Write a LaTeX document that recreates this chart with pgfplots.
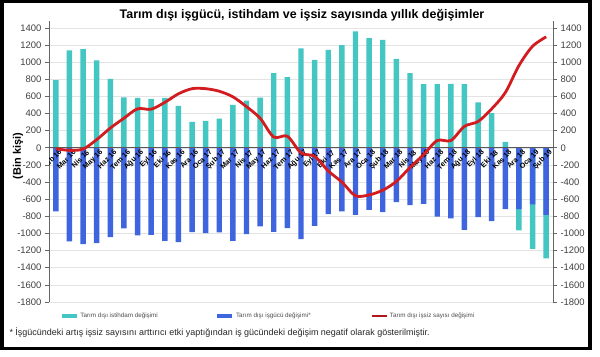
\documentclass[border=0pt]{standalone}
\usepackage{fontspec}
\setmainfont{Liberation Sans}
\usepackage{pgfplots}
\usepackage{pgfplotstable}
\pgfplotsset{compat=1.18}
\definecolor{tealc}{RGB}{68,198,194}
\definecolor{bluec}{RGB}{62,100,222}
\definecolor{redc}{RGB}{210,28,32}

\pgfplotstableread{
x teal blue red
0 790 -743 -10
1 1136 -1093 -30
2 1152 -1125 -15
3 1019 -1113 95
4 805 -1043 230
5 588 -942 345
6 584 -1023 455
7 572 -1016 450
8 584 -1086 530
9 490 -1101 630
10 303 -985 690
11 315 -996 690
12 339 -988 660
13 500 -1086 595
14 550 -1008 480
15 585 -918 345
16 872 -981 125
17 825 -938 135
18 1160 -1066 -60
19 1027 -910 -100
20 1144 -774 -270
21 1198 -743 -400
22 1358 -782 -560
23 1280 -724 -550
24 1261 -751 -495
25 1039 -634 -393
26 872 -669 -230
27 743 -654 -80
28 743 -802 85
29 747 -825 85
30 743 -957 250
31 530 -809 307
32 405 -856 455
33 68 -716 645
34 -249 -716 960
35 -518 -661 1185
36 -510 -782 1295
}\datatable

\tikzset{xlab/.style={rotate=45, anchor=east, font=\bfseries\fontsize{7.3}{8}\selectfont, text=black, inner sep=0.3bp, xshift=1.5bp, yshift=-6bp}}

\begin{document}
\begin{tikzpicture}[x=1bp,y=1bp]
\path[use as bounding box] (0,0) rectangle (600,356);
\begin{axis}[
  at={(49bp,54bp)}, anchor=south west,
  scale only axis, width=504bp, height=281bp,
  xmin=-0.5, xmax=36.5, ymin=-1800, ymax=1480,
  axis y line*=left, axis x line=none,
  ytick={-1800,-1600,...,1400},
  ymajorgrids, grid style={gray!22, line width=0.5bp},
  axis line style={gray!80!black, line width=0.6bp},
  tick style={gray!80!black, line width=0.6bp},
  tick align=outside, major tick length=4bp,
  yticklabel style={font=\fontsize{9.5}{11}\selectfont, text=black!75},
  /pgf/number format/assume math mode=true,
  /pgf/number format/1000 sep={},
  legend columns=3,
  legend style={draw=none, fill=none, at={(0.016,-0.05)}, anchor=west,
    font=\fontsize{6.3}{7}\selectfont, text=black!70,
    /tikz/column 2/.style={column sep=56bp},
    /tikz/column 4/.style={column sep=58bp}},
  legend cell align=left,
]
\addplot[ybar, bar width=0.4, bar shift=0pt, fill=tealc, draw=none,
  legend image code/.code={\draw[line width=3.2bp, tealc] (0bp,0bp) -- (15bp,0bp);}]
  table[x=x, y expr={\thisrow{teal}<0 ? \thisrow{teal}+\thisrow{blue} : \thisrow{teal}}] {\datatable};
\addlegendentry{Tarım dışı istihdam değişimi}
\addplot[ybar, bar width=0.4, bar shift=0pt, fill=bluec, draw=none,
  legend image code/.code={\draw[line width=3.2bp, bluec] (0bp,0bp) -- (15bp,0bp);}]
  table[x=x, y=blue] {\datatable};
\addlegendentry{Tarım dışı işgücü değişimi*}
\draw[black!65, line width=0.8bp] (axis cs:-0.5,0) -- (axis cs:36.5,0);
\foreach \i/\lab in {0/Şub 16,1/Mar 16,2/Nis 16,3/May 16,4/Haz 16,5/Tem 16,6/Ağu 16,7/Eyl 16,8/Eki 16,9/Kas 16,10/Ara 16,11/Oca 17,12/Şub 17,13/Mar 17,14/Nis 17,15/May 17,16/Haz 17,17/Tem 17,18/Ağu 17,19/Eyl 17,20/Eki 17,21/Kas 17,22/Ara 17,23/Oca 18,24/Şub 18,25/Mar 18,26/Nis 18,27/May 18,28/Haz 18,29/Tem 18,30/Ağu 18,31/Eyl 18,32/Eki 18,33/Kas 18,34/Ara 18,35/Oca 19,36/Şub 19}{
  \edef\temp{\noexpand\node[xlab] at (axis cs:\i,0) {\lab};}
  \temp
}
\addplot[smooth, line width=2.8bp, color=redc,
  legend image code/.code={\draw[line width=2.2bp, redc!85!black] (0bp,0bp) -- (15bp,0bp);}]
  table[x=x, y=red] {\datatable};
\addlegendentry{Tarım dışı işsiz sayısı değişimi}
\end{axis}
\begin{axis}[
  at={(49bp,54bp)}, anchor=south west,
  scale only axis, width=504bp, height=281bp,
  xmin=-0.5, xmax=36.5, ymin=-1800, ymax=1480,
  axis y line*=right, axis x line=none,
  ytick={-1800,-1600,...,1400},
  axis line style={gray!80!black, line width=0.6bp},
  tick style={gray!80!black, line width=0.6bp},
  tick align=outside, major tick length=4bp,
  yticklabel style={font=\fontsize{9.5}{11}\selectfont, text=black!75},
  /pgf/number format/assume math mode=true,
  /pgf/number format/1000 sep={},
]
\addplot[draw=none] coordinates {(0,0)};
\end{axis}
\node[font=\bfseries\fontsize{12.5}{14}\selectfont] at (302,341) {Tarım dışı işgücü, istihdam ve işsiz sayısında yıllık değişimler};
\node[rotate=90, font=\bfseries\fontsize{11}{12}\selectfont] at (18,200) {(Bin kişi)};
\node[anchor=west, font=\fontsize{9}{10}\selectfont, text=black!85] at (6,23) {* İşgücündeki artış işsiz sayısını arttırıcı etki yaptığından iş gücündeki değişim negatif olarak gösterilmiştir.};
\draw[line width=3.5bp] (1.75,7.5) rectangle (590,354.25);
\end{tikzpicture}
\end{document}
